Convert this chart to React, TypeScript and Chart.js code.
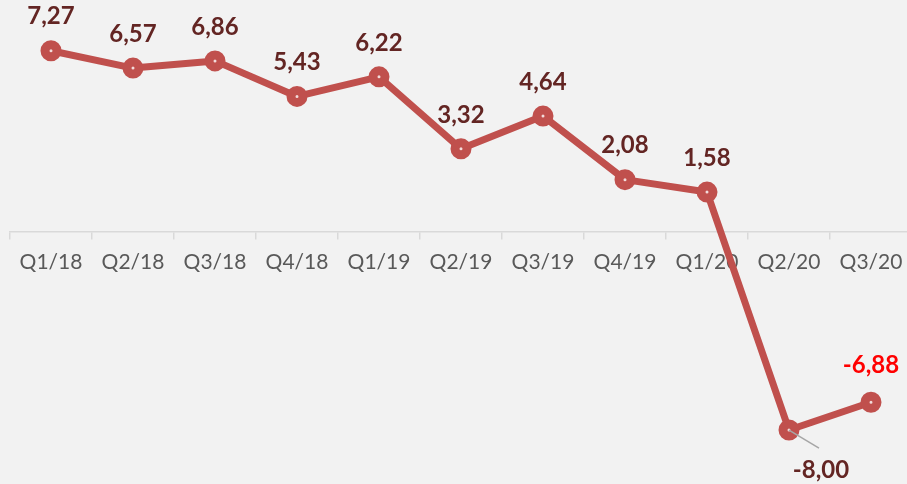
import React, { useEffect, useRef } from 'react';
import { Chart, registerables } from 'chart.js';

Chart.register(...registerables);

const categories = ['Q1/18', 'Q2/18', 'Q3/18', 'Q4/18', 'Q1/19', 'Q2/19', 'Q3/19', 'Q4/19', 'Q1/20', 'Q2/20', 'Q3/20'];
const growthValues = [7.27, 6.57, 6.86, 5.43, 6.22, 3.32, 4.64, 2.08, 1.58, -8.0, -6.88];

const LINE_COLOR = '#c0504d';
const LABEL_COLOR = '#632523';
const HIGHLIGHT_COLOR = '#ff0000';
const AXIS_COLOR = '#d9d9d9';
const TICK_TEXT = '#595959';

const fmt = (v: number) => v.toFixed(2).replace('.', ',');

const valueLabels = {
  id: 'valueLabels',
  afterDatasetsDraw(chart: any) {
    const { ctx } = chart;
    const meta = chart.getDatasetMeta(0);
    const data = chart.data.datasets[0].data as number[];
    const minIdx = data.indexOf(Math.min(...data));
    const lastIdx = data.length - 1;
    ctx.save();
    ctx.font = 'bold 24px Lato';
    ctx.textAlign = 'center';
    ctx.textBaseline = 'middle';
    meta.data.forEach((pt: any, i: number) => {
      const x = pt.x;
      const y = pt.y;
      let lx = x;
      let ly = y - (i === lastIdx ? 37 : 34);
      if (i === minIdx) {
        ctx.strokeStyle = '#a6a6a6';
        ctx.lineWidth = 1.5;
        ctx.beginPath();
        ctx.moveTo(x, y);
        ctx.lineTo(x + 30, y + 18);
        ctx.stroke();
        lx = x + 32;
        ly = y + 40;
      }
      ctx.fillStyle = i === lastIdx ? HIGHLIGHT_COLOR : LABEL_COLOR;
      ctx.fillText(fmt(data[i]), lx, ly);
    });
    ctx.restore();
  },
};

export default function App() {
  const ref = useRef<HTMLCanvasElement | null>(null);

  useEffect(() => {
    document.documentElement.style.overflow = 'hidden';
    document.body.style.margin = '0';
    document.body.style.overflow = 'hidden';
    document.body.style.background = '#f2f2f2';
    if (!ref.current) return;
    const chart = new Chart(ref.current, {
      type: 'line',
      data: {
        labels: categories,
        datasets: [
          {
            data: growthValues,
            borderColor: LINE_COLOR,
            borderWidth: 7,
            borderJoinStyle: 'round',
            borderCapStyle: 'round',
            tension: 0,
            pointRadius: 6,
            pointBorderWidth: 9,
            pointBorderColor: LINE_COLOR,
            pointBackgroundColor: '#f2dcdb',
            fill: false,
            clip: false,
          },
        ],
      },
      options: {
        responsive: false,
        animation: false,
        events: [],
        layout: { autoPadding: false, padding: { left: 10, right: 8, top: 0, bottom: 0 } },
        plugins: {
          legend: { display: false },
          tooltip: { enabled: false },
        },
        scales: {
          x: {
            type: 'category',
            position: { y: 0 } as any,
            offset: true,
            grid: {
              offset: true,
              drawOnChartArea: false,
              drawTicks: true,
              tickLength: 7,
              color: AXIS_COLOR,
              lineWidth: 1.5,
            },
            border: { display: true, color: AXIS_COLOR, width: 1.5 },
            ticks: {
              color: TICK_TEXT,
              font: { family: 'Lato', size: 21 },
              padding: 11,
              maxRotation: 0,
              autoSkip: false,
            },
          },
          y: {
            display: false,
            min: -10.173,
            max: 9.312,
          },
        },
      },
      plugins: [valueLabels],
    });
    return () => chart.destroy();
  }, []);

  return (
    <div style={{ width: 907, height: 484, overflow: 'hidden', background: '#f2f2f2' }}>
      <canvas ref={ref} width={920} height={484} style={{ display: 'block' }} />
    </div>
  );
}
